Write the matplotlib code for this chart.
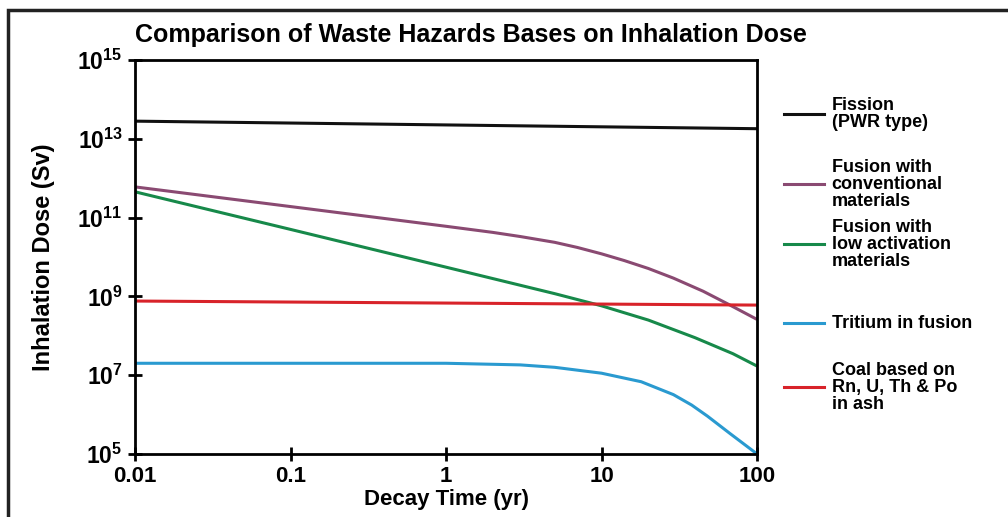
import matplotlib
matplotlib.use('Agg')
import matplotlib.pyplot as plt
from matplotlib.lines import Line2D
from matplotlib.patches import Rectangle
from matplotlib.ticker import FixedLocator, NullLocator

plt.rcParams['font.family'] = ['Liberation Sans', 'DejaVu Sans']
plt.rcParams['font.weight'] = 'bold'
plt.rcParams['mathtext.fontset'] = 'custom'
plt.rcParams['mathtext.bf'] = 'Liberation Sans:bold'
plt.rcParams['mathtext.rm'] = 'Liberation Sans:bold'

# decay time (yr) and inhalation dose (Sv)
fission_t = [0.01, 100]
fission_dose = [2.8e13, 1.8e13]

conv_t = [0.01, 0.1, 1, 2, 3, 5, 7, 10, 14, 20, 29, 45, 64, 100]
conv_dose = [6.0e11, 1.9e11, 6.0e10, 4.2e10, 3.3e10, 2.35e10, 1.74e10, 1.2e10,
             8.1e9, 5.1e9, 2.9e9, 1.35e9, 6.6e8, 2.6e8]

lowact_t = [0.01, 0.1, 1, 5, 10, 20, 40, 70, 100]
lowact_dose = [4.5e11, 5.0e10, 5.5e9, 1.17e9, 5.75e8, 2.5e8, 8.9e7, 3.5e7, 1.7e7]

tritium_t = [0.01, 1, 3, 5, 10, 18, 29, 38, 48, 67, 100]
tritium_dose = [2.0e7, 2.0e7, 1.82e7, 1.58e7, 1.12e7, 6.8e6, 3.2e6, 1.74e6, 9.1e5,
                3.3e5, 1.0e5]

coal_t = [0.01, 100]
coal_dose = [7.6e8, 6.0e8]

labels = ['Fission\n(PWR type)',
          'Fusion with\nconventional\nmaterials',
          'Fusion with\nlow activation\nmaterials',
          'Tritium in fusion',
          'Coal based on\nRn, U, Th & Po\nin ash']
colors = ['#111111', '#8a4a72', '#17894a', '#2a9ad0', '#d8232a']

x_ticks = [0.01, 0.1, 1, 10, 100]
x_tick_labels = ['0.01', '0.1', '1', '10', '100']
y_ticks = [1e5, 1e7, 1e9, 1e11, 1e13, 1e15]
y_tick_labels = [r'$\mathbf{10^{5}}$', r'$\mathbf{10^{7}}$', r'$\mathbf{10^{9}}$',
                 r'$\mathbf{10^{11}}$', r'$\mathbf{10^{13}}$', r'$\mathbf{10^{15}}$']

fig = plt.figure(figsize=(10.08, 5.17), dpi=100)
ax = fig.add_axes([0.134, 0.122, 0.617, 0.762])

series = [(fission_t, fission_dose), (conv_t, conv_dose), (lowact_t, lowact_dose),
          (tritium_t, tritium_dose), (coal_t, coal_dose)]
for (t, d), c in zip(series, colors):
    ax.plot(t, d, color=c, lw=2.2, solid_capstyle='butt', solid_joinstyle='round')

ax.set_xscale('log')
ax.set_yscale('log')
ax.set_xlim(0.01, 100)
ax.set_ylim(1e5, 1e15)

ax.xaxis.set_major_locator(FixedLocator(x_ticks))
ax.xaxis.set_minor_locator(NullLocator())
ax.set_xticklabels(x_tick_labels, fontsize=16)
ax.yaxis.set_major_locator(FixedLocator(y_ticks))
ax.yaxis.set_minor_locator(NullLocator())
ax.set_yticklabels(y_tick_labels, fontsize=16.5)
ax.tick_params(direction='inout', length=10, width=2, pad=4)

for s in ax.spines.values():
    s.set_linewidth(2)

ax.set_xlabel('Decay Time (yr)', fontsize=16, fontweight='bold', labelpad=1)
ax.set_ylabel('Inhalation Dose (Sv)', fontsize=17, fontweight='bold', labelpad=16)
fig.text(0.467, 0.932, 'Comparison of Waste Hazards Bases on Inhalation Dose',
         ha='center', va='center', fontsize=18, fontweight='bold')

# legend on the right, placed by hand like the original
legend_y = [0.779, 0.644, 0.528, 0.375, 0.251]
for lab, c, y in zip(labels, colors, legend_y):
    fig.add_artist(Line2D([0.778, 0.817], [y, y], color=c, lw=2.2,
                          transform=fig.transFigure))
    fig.text(0.825, y, lab, ha='left', va='center', fontsize=13,
             fontweight='bold', linespacing=1.0)

# outer frame of the figure
fig.add_artist(Rectangle((0.008, -0.1), 1.2, 1.08, fill=False, lw=2.5,
                         edgecolor='#222222', transform=fig.transFigure))

plt.savefig('out.png', dpi=100)
